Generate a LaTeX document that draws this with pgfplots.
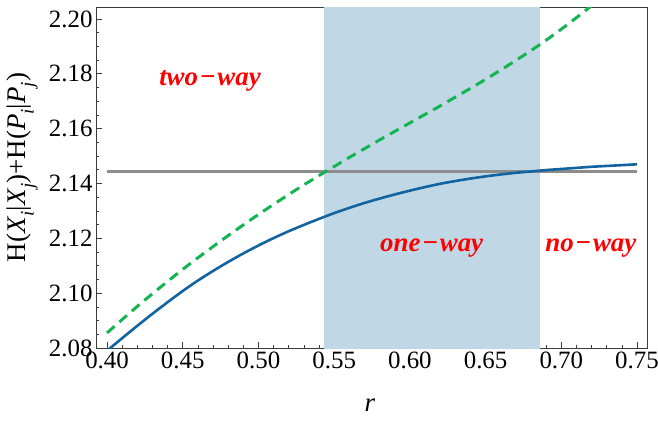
\documentclass[border=0pt]{standalone}
\usepackage{fontspec}
\setmainfont{Liberation Serif}
\usepackage{pgfplots}
\pgfplotsset{compat=1.18}
\definecolor{curveblue}{RGB}{17,100,160}
\definecolor{curvegreen}{RGB}{20,180,80}
\definecolor{shadeblue}{RGB}{192,216,229}
\definecolor{hline}{RGB}{140,140,140}
\definecolor{framecol}{RGB}{60,60,60}
\newcommand\sub[1]{\raisebox{-0.3em}{\fontsize{19}{20}\selectfont\textit{#1}}}
\begin{document}
\begin{tikzpicture}
\useasboundingbox (-96bp,-73bp) rectangle (562bp,348bp);
\begin{axis}[
  at={(0,0)}, anchor=south west,
  scale only axis, width=551bp, height=340.5bp,
  xmin=0.3927, xmax=0.7566, ymin=2.08, ymax=2.2042,
  axis line style={framecol, line width=0.9bp},
  xtick={0.40,0.45,0.50,0.55,0.60,0.65,0.70,0.75},
  ytick={2.08,2.10,2.12,2.14,2.16,2.18,2.20},
  minor x tick num=4, minor y tick num=3,
  tick align=inside, xtick pos=bottom, ytick pos=left,
  major tick length=6bp, minor tick length=3.5bp,
  every tick/.style={framecol, line width=0.7bp},
  /pgf/number format/assume math mode=true,
  x tick label style={font=\fontsize{25}{28}\selectfont, /pgf/number format/.cd, fixed, fixed zerofill, precision=2, /tikz/.cd},
  y tick label style={font=\fontsize{25}{28}\selectfont, /pgf/number format/.cd, fixed, fixed zerofill, precision=2, /tikz/.cd},
  every axis y label/.style={at={(axis description cs:-0.134,0.53)}, rotate=90, anchor=center, font=\fontsize{27}{30}\selectfont},
  every axis x label/.style={at={(axis description cs:0.497,-0.167)}, anchor=center, font=\fontsize{27}{30}\selectfont},
  xlabel={\textit{r}},
  ylabel={H(\textit{X}\sub{i}|\textit{X}\sub{j})+H(\textit{P}\sub{i}|\textit{P}\sub{j})},
  clip=true,
]
\addplot[fill=shadeblue, draw=none] coordinates {(0.5433,2.07) (0.686,2.07) (0.686,2.21) (0.5433,2.21)} -- cycle;
\addplot[hline, line width=3bp] coordinates {(0.40,2.1445) (0.75,2.1445)};
\addplot[curvegreen, line width=3bp, dash pattern=on 10bp off 6.5bp, smooth] coordinates {
(0.40,2.0855) (0.41,2.0904) (0.42,2.0952) (0.43,2.0998) (0.44,2.1043) (0.45,2.1087)
(0.46,2.1129) (0.47,2.1170) (0.48,2.1210) (0.49,2.1249) (0.50,2.1287) (0.51,2.1324)
(0.52,2.1360) (0.53,2.1395) (0.54,2.1429) (0.55,2.1462) (0.56,2.1495) (0.57,2.1527)
(0.58,2.1559) (0.59,2.1590) (0.60,2.1621) (0.61,2.1652) (0.62,2.1683) (0.63,2.1715)
(0.64,2.1747) (0.65,2.1780) (0.66,2.1814) (0.67,2.1849) (0.68,2.1885) (0.69,2.1923)
(0.70,2.1963) (0.71,2.2005) (0.72,2.2049) (0.73,2.2095)};
\addplot[curveblue, line width=2.6bp, smooth] coordinates {
(0.40,2.0790) (0.41,2.0836) (0.42,2.0881) (0.43,2.0925) (0.44,2.0967) (0.45,2.1008)
(0.46,2.1046) (0.47,2.1081) (0.48,2.1114) (0.49,2.1145) (0.50,2.1174) (0.51,2.1201)
(0.52,2.1226) (0.53,2.1249) (0.54,2.1271) (0.55,2.1292) (0.56,2.1311) (0.57,2.1329)
(0.58,2.1345) (0.59,2.1360) (0.60,2.1374) (0.61,2.1387) (0.62,2.1399) (0.63,2.1409)
(0.64,2.1418) (0.65,2.1426) (0.66,2.1433) (0.67,2.1439) (0.68,2.1444) (0.69,2.1449)
(0.70,2.1453) (0.71,2.1457) (0.72,2.1461) (0.73,2.1464) (0.74,2.1467) (0.75,2.1470)};
\node[text=red, font=\fontsize{27}{30}\selectfont\bfseries\itshape] at (axis cs:0.468,2.1774) {two\kern1.5bp−\kern1.5bp way};
\node[text=red, font=\fontsize{27}{30}\selectfont\bfseries\itshape] at (axis cs:0.6144,2.1166) {one\kern1.5bp−\kern1.5bp way};
\node[text=red, font=\fontsize{27}{30}\selectfont\bfseries\itshape] at (axis cs:0.7195,2.1166) {no\kern1.5bp−\kern1.5bp way};
\end{axis}
\end{tikzpicture}
\end{document}
